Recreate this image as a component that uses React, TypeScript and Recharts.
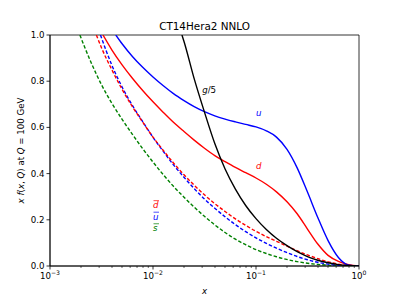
import { LineChart, Line, XAxis, YAxis, ReferenceArea, ReferenceDot } from "recharts";

// x f(x,Q) at Q = 100 GeV (x on a log scale)
const uX = [0.00435, 0.00501, 0.00631, 0.00794, 0.01, 0.0126, 0.0158, 0.02, 0.0251, 0.0316, 0.0398, 0.0501, 0.0631, 0.0794, 0.1, 0.126, 0.158, 0.2, 0.251, 0.316, 0.398, 0.501, 0.631, 0.794, 1.0];
const uY = [1.0, 0.962, 0.907, 0.86, 0.818, 0.78, 0.746, 0.716, 0.69, 0.668, 0.65, 0.636, 0.624, 0.613, 0.602, 0.585, 0.558, 0.505, 0.425, 0.32, 0.21, 0.11, 0.037, 0.004, 0.0];

const dX = [0.00327, 0.00398, 0.00501, 0.00631, 0.00794, 0.01, 0.0126, 0.0158, 0.02, 0.0251, 0.0316, 0.0398, 0.0501, 0.0631, 0.0794, 0.1, 0.126, 0.158, 0.2, 0.251, 0.316, 0.398, 0.501, 0.631, 0.794, 1.0];
const dY = [1.0, 0.936, 0.871, 0.813, 0.76, 0.711, 0.665, 0.622, 0.582, 0.545, 0.51, 0.478, 0.452, 0.427, 0.404, 0.381, 0.354, 0.321, 0.278, 0.226, 0.16, 0.095, 0.046, 0.02, 0.006, 0.0];

const gX = [0.0191, 0.02, 0.0251, 0.0316, 0.0398, 0.0501, 0.0631, 0.0794, 0.1, 0.126, 0.158, 0.2, 0.251, 0.316, 0.398, 0.501, 0.631, 0.794, 1.0];
const gY = [1.0, 0.972, 0.811, 0.666, 0.53, 0.42, 0.333, 0.262, 0.205, 0.158, 0.12, 0.088, 0.062, 0.041, 0.025, 0.014, 0.006, 0.002, 0.0];

const dbarX = [0.00282, 0.00316, 0.00398, 0.00501, 0.00631, 0.00794, 0.01, 0.0126, 0.0158, 0.02, 0.0251, 0.0316, 0.0398, 0.0501, 0.0631, 0.0794, 0.1, 0.126, 0.158, 0.2, 0.251, 0.316, 0.398, 0.501, 0.631, 0.794, 1.0];
const dbarY = [1.0, 0.945, 0.85, 0.765, 0.69, 0.623, 0.558, 0.5, 0.446, 0.395, 0.35, 0.308, 0.27, 0.236, 0.204, 0.176, 0.15, 0.127, 0.107, 0.086, 0.066, 0.048, 0.032, 0.018, 0.008, 0.002, 0.0];

const ubarX = [0.00309, 0.00398, 0.00501, 0.00631, 0.00794, 0.01, 0.0126, 0.0158, 0.02, 0.0251, 0.0316, 0.0398, 0.0501, 0.0631, 0.0794, 0.1, 0.126, 0.158, 0.2, 0.251, 0.316, 0.398, 0.501, 0.631, 0.794, 1.0];
const ubarY = [1.0, 0.87, 0.775, 0.695, 0.625, 0.557, 0.496, 0.438, 0.384, 0.335, 0.29, 0.25, 0.213, 0.179, 0.149, 0.122, 0.098, 0.077, 0.058, 0.041, 0.027, 0.016, 0.008, 0.003, 0.001, 0.0];

const sbarX = [0.00195, 0.00251, 0.00316, 0.00398, 0.00501, 0.00631, 0.00794, 0.01, 0.0126, 0.0158, 0.02, 0.0251, 0.0316, 0.0398, 0.0501, 0.0631, 0.0794, 0.1, 0.126, 0.158, 0.251, 0.398, 0.631, 1.0];
const sbarY = [1.0, 0.88, 0.785, 0.705, 0.635, 0.57, 0.508, 0.45, 0.395, 0.345, 0.298, 0.255, 0.215, 0.178, 0.145, 0.116, 0.092, 0.071, 0.054, 0.04, 0.019, 0.007, 0.0015, 0.0];

const xMajor = [0.001, 0.01, 0.1, 1];
const xExp = ["\u22123", "\u22122", "\u22121", "0"];
const xMinor = [0.001, 0.01, 0.1].flatMap((d) => [2, 3, 4, 5, 6, 7, 8, 9].map((m) => +(d * m).toPrecision(3)));
const yTicks = [0, 0.2, 0.4, 0.6, 0.8, 1.0];

const FONT = "DejaVu Sans";

const pts = (xs: number[], ys: number[]) => xs.map((x, i) => ({ x, y: ys[i] }));

const XTick = (props: any) => {
  const { x, y, payload } = props;
  const i = xMajor.indexOf(payload.value);
  const major = i >= 0;
  return (
    <g>
      <line x1={x} x2={x} y1={y} y2={y + (major ? 3.5 : 2)} stroke="#000" strokeWidth={major ? 0.8 : 0.6} />
      {major && (
        <text x={x} y={y + 13} textAnchor="middle" fontSize={8.65} fontFamily={FONT} fill="#000">
          <tspan>10</tspan>
          <tspan dy={-4} fontSize={6.1}>{xExp[i]}</tspan>
        </text>
      )}
    </g>
  );
};

const YLabel = (props: any) => {
  const vb = props.viewBox || { x: 0, y: 35, width: 50, height: 231 };
  const cx = 21;
  const cy = vb.y + vb.height / 2;
  return (
    <text x={cx} y={cy} transform={`rotate(-90 ${cx} ${cy})`} textAnchor="middle" dominantBaseline="central" fontSize={8.65} fontFamily={FONT} fill="#000">
      <tspan fontStyle="italic">x</tspan>
      <tspan> </tspan>
      <tspan fontStyle="italic">f</tspan>
      <tspan>(</tspan>
      <tspan fontStyle="italic">x</tspan>
      <tspan>, </tspan>
      <tspan fontStyle="italic">Q</tspan>
      <tspan>) at </tspan>
      <tspan fontStyle="italic">Q</tspan>
      <tspan> = 100 GeV</tspan>
    </text>
  );
};

// text annotation anchored (left, baseline) at a data point
const Note = (label: string, color: string, rest?: string, bar?: boolean) => (p: any) => (
  <g>
    <text x={p.cx} y={p.cy} fontSize={8.65} fontFamily={FONT} fill={color}>
      <tspan fontStyle="italic">{label}</tspan>
      {rest && <tspan>{rest}</tspan>}
    </text>
    {bar && <line x1={p.cx + 0.5} x2={p.cx + 6} y1={p.cy - 7.6} y2={p.cy - 7.6} stroke={color} strokeWidth={0.7} />}
  </g>
);

const lineProps = { type: "monotone" as const, dot: false, isAnimationActive: false, dataKey: "y", strokeWidth: 1.4 };

export default function App() {
  return (
    <div style={{ position: "absolute", left: 0, top: 0, width: 399, height: 299, background: "#fff" }}>
      <LineChart width={399} height={299} margin={{ top: 35, right: 40, left: 0, bottom: 0 }}>
        <XAxis
          dataKey="x"
          type="number"
          scale="log"
          domain={[0.001, 1]}
          allowDataOverflow
          ticks={[...xMajor, ...xMinor]}
          interval={0}
          tick={<XTick />}
          tickLine={false}
          tickSize={0}
          tickMargin={0}
          axisLine={{ stroke: "#000", strokeWidth: 0.8 }}
          height={33}
          label={{
            value: "x",
            position: "insideBottom",
            offset: 5,
            fontSize: 8.65,
            fontFamily: FONT,
            fontStyle: "italic",
            fill: "#000",
          }}
        />
        <YAxis
          type="number"
          domain={[0, 1]}
          allowDataOverflow
          ticks={yTicks}
          width={50}
          tickSize={3.5}
          tickMargin={2}
          tickFormatter={(v: number) => v.toFixed(1)}
          tick={{ fontSize: 8.65, fontFamily: FONT, fill: "#000" }}
          tickLine={{ stroke: "#000", strokeWidth: 0.8 }}
          axisLine={{ stroke: "#000", strokeWidth: 0.8 }}
          label={{ content: <YLabel /> }}
        />
        <Line {...lineProps} data={pts(sbarX, sbarY)} stroke="#008000" strokeDasharray="3.5 2" />
        <Line {...lineProps} data={pts(ubarX, ubarY)} stroke="#0000ff" strokeDasharray="3.5 2" />
        <Line {...lineProps} data={pts(dbarX, dbarY)} stroke="#ff0000" strokeDasharray="3.5 2" />
        <Line {...lineProps} data={pts(dX, dY)} stroke="#ff0000" />
        <Line {...lineProps} data={pts(uX, uY)} stroke="#0000ff" />
        <Line {...lineProps} data={pts(gX, gY)} stroke="#000000" />
        <ReferenceArea x1={0.001} x2={1} y1={0} y2={1} fill="none" stroke="#000" strokeWidth={0.8} />
        <ReferenceDot x={0.03} y={0.75} r={0} shape={Note("g", "#000", "/5")} />
        <ReferenceDot x={0.1} y={0.65} r={0} shape={Note("u", "#0000ff")} />
        <ReferenceDot x={0.1} y={0.42} r={0} shape={Note("d", "#ff0000")} />
        <ReferenceDot x={0.01} y={0.25} r={0} shape={Note("d", "#ff0000", undefined, true)} />
        <ReferenceDot x={0.01} y={0.2} r={0} shape={Note("u", "#0000ff", undefined, true)} />
        <ReferenceDot x={0.01} y={0.15} r={0} shape={Note("s", "#008000", undefined, true)} />
      </LineChart>
      <svg width={399} height={40} style={{ position: "absolute", left: 0, top: 0, pointerEvents: "none" }}>
        <text x={204.5} y={30} textAnchor="middle" fontSize={10.4} fontFamily={FONT} fill="#000">
          CT14Hera2 NNLO
        </text>
      </svg>
    </div>
  );
}
